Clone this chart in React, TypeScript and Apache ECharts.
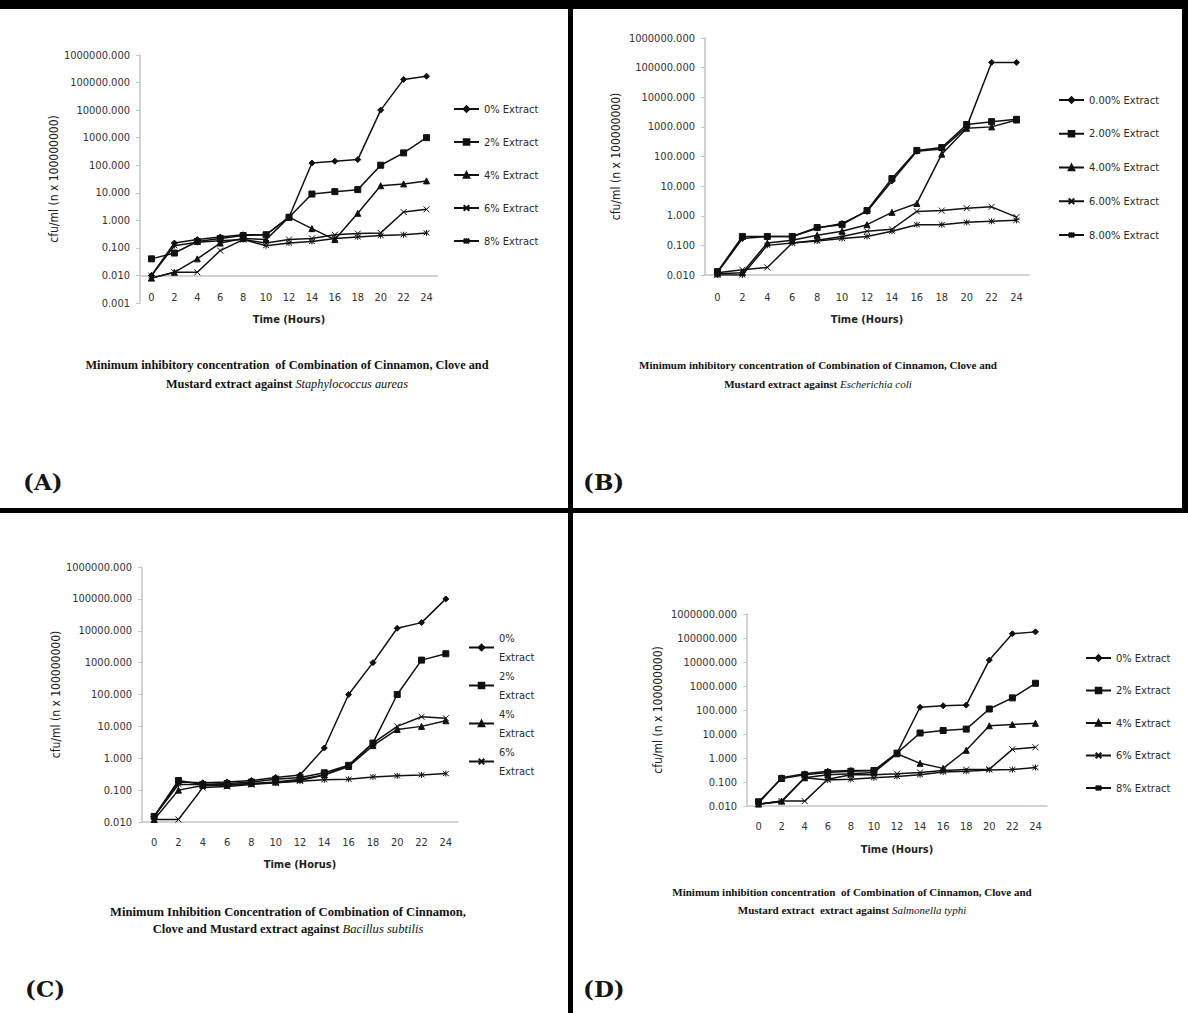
import React, { useEffect, useRef } from 'react';
import * as echarts from 'echarts';

const hours = ['0', '2', '4', '6', '8', '10', '12', '14', '16', '18', '20', '22', '24'];

const namesShort = ['0% Extract', '2% Extract', '4% Extract', '6% Extract', '8% Extract'];
const namesLong = ['0.00% Extract', '2.00% Extract', '4.00% Extract', '6.00% Extract', '8.00% Extract'];

// Panel A – Staphylococcus aureas
const a0 = [0.010, 0.15, 0.20, 0.25, 0.30, 0.30, 1.3, 120, 140, 160, 10000, 130000, 170000];
const a2 = [0.040, 0.065, 0.17, 0.22, 0.28, 0.30, 1.3, 9, 11, 13, 100, 280, 1000];
const a4 = [0.008, 0.013, 0.040, 0.15, 0.22, 0.20, 1.3, 0.5, 0.2, 1.8, 18, 21, 27];
const a6 = [0.008, 0.013, 0.013, 0.08, 0.20, 0.15, 0.20, 0.22, 0.30, 0.33, 0.35, 2.0, 2.5];
const a8 = [0.010, 0.12, 0.16, 0.18, 0.20, 0.12, 0.15, 0.17, 0.22, 0.25, 0.28, 0.30, 0.35];

// Panel B – Escherichia coli
const b0 = [0.012, 0.17, 0.20, 0.20, 0.38, 0.55, 1.4, 15, 150, 180, 1000, 150000, 150000];
const b2 = [0.013, 0.20, 0.20, 0.20, 0.40, 0.50, 1.5, 18, 160, 200, 1200, 1500, 1800];
const b4 = [0.011, 0.012, 0.12, 0.15, 0.22, 0.30, 0.5, 1.3, 2.6, 120, 900, 1000, 1700];
const b6 = [0.012, 0.015, 0.018, 0.12, 0.15, 0.20, 0.30, 0.35, 1.4, 1.5, 1.8, 2.0, 0.9];
const b8 = [0.010, 0.010, 0.10, 0.12, 0.14, 0.17, 0.20, 0.30, 0.5, 0.5, 0.6, 0.65, 0.7];

// Panel C – Bacillus subtilis
const c0 = [0.015, 0.18, 0.17, 0.18, 0.20, 0.25, 0.30, 2.1, 100, 1000, 12000, 18000, 100000];
const c2 = [0.015, 0.20, 0.15, 0.16, 0.18, 0.22, 0.25, 0.35, 0.6, 3, 100, 1200, 1900];
const c4 = [0.012, 0.10, 0.14, 0.14, 0.16, 0.18, 0.22, 0.30, 0.55, 2.5, 8, 10, 15];
const c6 = [0.012, 0.012, 0.12, 0.13, 0.15, 0.17, 0.20, 0.30, 0.6, 3, 10, 20, 18];
const c8 = [0.015, 0.15, 0.15, 0.15, 0.16, 0.17, 0.19, 0.21, 0.22, 0.26, 0.28, 0.30, 0.33];

// Panel D – Salmonella typhi
const d0 = [0.013, 0.15, 0.22, 0.28, 0.30, 0.30, 1.6, 130, 150, 160, 12000, 150000, 180000];
const d2 = [0.015, 0.14, 0.20, 0.25, 0.28, 0.30, 1.6, 11, 14, 16, 110, 320, 1300];
const d4 = [0.012, 0.016, 0.15, 0.20, 0.22, 0.25, 1.5, 0.6, 0.37, 2.1, 22, 25, 28];
const d6 = [0.012, 0.016, 0.016, 0.13, 0.20, 0.20, 0.22, 0.25, 0.30, 0.33, 0.34, 2.3, 2.8];
const d8 = [0.012, 0.015, 0.15, 0.12, 0.13, 0.15, 0.17, 0.20, 0.26, 0.28, 0.32, 0.33, 0.40];

const X_PATH = 'path://M0,0L10,10M10,0L0,10';
const STAR_PATH = 'path://M0,1L10,9M10,1L0,9M5,0L5,10';
const symbols = ['diamond', 'rect', 'triangle', X_PATH, STAR_PATH];
const symbolSizes = [6, 6, 6, 6, 6];

const NARROW = "'Liberation Sans Narrow', 'DejaVu Sans Condensed', 'Liberation Sans', sans-serif";
const SERIF = "'Liberation Serif', 'DejaVu Serif', serif";

const panels = [
  {
    names: namesShort, data: [a0, a2, a4, a6, a8],
    grid: { left: 140, top: 55, width: 298, height: 248 },
    yMin: 0.001, split: 9, labelMargin: -11, xNameGap: 11, yNameGap: 78, xName: 'Time (Hours)',
    axisLineX: false,
    legend: { left: 448, top: 98, itemGap: 21 },
  },
  {
    names: namesLong, data: [b0, b2, b4, b6, b8],
    grid: { left: 705, top: 38, width: 324, height: 237 },
    yMin: 0.01, split: 8, labelMargin: 17, xNameGap: 39, yNameGap: 83, xName: 'Time (Hours)',
    axisLineX: true,
    legend: { left: 1053, top: 89, itemGap: 21.75 },
  },
  {
    names: namesShort, data: [c0, c2, c4, c6, c8],
    grid: { left: 142, top: 567, width: 316, height: 255 },
    yMin: 0.01, split: 8, labelMargin: 15, xNameGap: 37, yNameGap: 73, xName: 'Time (Horus)',
    axisLineX: true,
    legend: { left: 463, top: 614, itemGap: -19 },
    wrapLegend: true,
  },
  {
    names: namesShort, data: [d0, d2, d4, d6, d8],
    grid: { left: 747, top: 614, width: 300, height: 192 },
    yMin: 0.01, split: 8, labelMargin: 15, xNameGap: 38, yNameGap: 83, xName: 'Time (Hours)',
    axisLineX: true,
    legend: { left: 1080, top: 647, itemGap: 20.5 },
  },
];

function buildOption() {
  const grids: any[] = [];
  const xAxes: any[] = [];
  const yAxes: any[] = [];
  const series: any[] = [];
  const legends: any[] = [];

  panels.forEach((p, i) => {
    grids.push({ ...p.grid, containLabel: false });
    xAxes.push({
      type: 'category', gridIndex: i, data: hours, boundaryGap: true,
      axisLine: { show: p.axisLineX, lineStyle: { color: '#c4c4c4', width: 1.5 } },
      axisTick: { show: false },
      axisLabel: { margin: p.labelMargin, color: '#333', fontFamily: NARROW, fontSize: 11, interval: 0 },
      name: p.xName, nameLocation: 'middle', nameGap: p.xNameGap,
      nameTextStyle: { color: '#222', fontFamily: NARROW, fontSize: 11, fontWeight: 'bold' },
      splitLine: { show: false },
    });
    yAxes.push({
      type: 'log', logBase: 10, gridIndex: i, min: p.yMin, max: 1000000, splitNumber: p.split,
      axisLine: { show: true, lineStyle: { color: '#c4c4c4', width: 1.5 } },
      axisTick: { show: true, length: 4, inside: false, lineStyle: { color: '#c4c4c4' } },
      axisLabel: {
        margin: 10, color: '#333', fontFamily: NARROW, fontSize: 11,
        formatter: (v: number) => Number(v).toFixed(3),
      },
      splitLine: { show: false },
      name: 'cfu/ml (n x 100000000)', nameLocation: 'middle', nameRotate: 90, nameGap: p.yNameGap,
      nameTextStyle: { color: '#222', fontFamily: NARROW, fontSize: 12 },
    });
    p.data.forEach((vals, k) => {
      const s: any = {
        type: 'line', name: p.names[k], xAxisIndex: i, yAxisIndex: i, data: vals,
        symbol: symbols[k], symbolSize: symbolSizes[k], symbolKeepAspect: true,
        lineStyle: { color: '#111', width: 1.5 },
        itemStyle: { color: '#111', borderColor: '#111', borderWidth: 1 },
        emphasis: { disabled: true }, silent: true, z: 3,
      };
      if (i === 0 && k === 0) {
        s.markLine = {
          silent: true, symbol: 'none', label: { show: false },
          lineStyle: { color: '#c4c4c4', width: 1.5, type: 'solid' },
          data: [{ yAxis: 0.01 }], z: 1,
        };
      }
      series.push(s);
    });
    const legendNames = p.wrapLegend ? p.names.slice(0, 4) : p.names;
    legends.push({
      orient: 'vertical', left: p.legend.left, top: p.legend.top, itemGap: p.legend.itemGap,
      itemWidth: 25, itemHeight: 7, data: legendNames, selectedMode: false,
      formatter: p.wrapLegend ? (n: string) => n.replace(' ', '\n') : undefined,
      textStyle: p.wrapLegend
        ? { color: '#2a2a2a', fontFamily: NARROW, fontSize: 11, lineHeight: 19, padding: [19, 0, 0, 0] }
        : { color: '#2a2a2a', fontFamily: NARROW, fontSize: 11, lineHeight: 12 },
    });
  });

  const caption = (x: number, y: number, l1: string, l2: string, it: string, size: number, lh: number) => ({
    type: 'text', x, y,
    style: {
      text: `{b|${l1}}\n{b|${l2}}{i|${it}}`,
      align: 'center', verticalAlign: 'top',
      rich: {
        b: { fontFamily: SERIF, fontWeight: 'bold', fontSize: size, lineHeight: lh, fill: '#111' },
        i: { fontFamily: SERIF, fontStyle: 'italic', fontSize: size, lineHeight: lh, fill: '#111' },
      },
    },
  });
  const tag = (x: number, y: number, t: string) => ({
    type: 'text', x, y,
    style: { text: t, fontFamily: "'DejaVu Serif', serif", fontWeight: 'bold', fontSize: 23, fill: '#151515', verticalAlign: 'middle' },
  });

  const graphic: any[] = [
    { type: 'rect', shape: { x: 0, y: 0, width: 1188, height: 9 }, style: { fill: '#000' } },
    { type: 'rect', shape: { x: 568, y: 0, width: 5, height: 1013 }, style: { fill: '#000' } },
    { type: 'rect', shape: { x: 0, y: 508, width: 1188, height: 5 }, style: { fill: '#000' } },
    { type: 'rect', shape: { x: 1182, y: 0, width: 6, height: 510 }, style: { fill: '#000' } },
    caption(287, 355.5, 'Minimum inhibitory concentration  of Combination of Cinnamon, Clove and', 'Mustard extract against ', 'Staphylococcus aureas', 12.3, 19),
    caption(818, 355.5, 'Minimum inhibitory concentration of Combination of Cinnamon, Clove and', 'Mustard extract against ', 'Escherichia coli', 11, 19),
    caption(288, 903.5, 'Minimum Inhibition Concentration of Combination of Cinnamon,', 'Clove and Mustard extract against ', 'Bacillus subtilis', 12.6, 17),
    caption(852, 883, 'Minimum inhibition concentration  of Combination of Cinnamon, Clove and', 'Mustard extract  extract against ', 'Salmonella typhi', 11, 18),
    tag(23, 481, '(A)'),
    tag(583, 481, '(B)'),
    tag(25, 988, '(C)'),
    tag(583, 988, '(D)'),
  ];

  return {
    animation: false,
    backgroundColor: '#fff',
    grid: grids, xAxis: xAxes, yAxis: yAxes, series, legend: legends, graphic,
  };
}

export default function App() {
  const ref = useRef<HTMLDivElement>(null);
  useEffect(() => {
    const chart = echarts.init(ref.current!, null, { renderer: 'svg' });
    chart.setOption(buildOption() as any);
    return () => chart.dispose();
  }, []);
  return (
    <div
      ref={ref}
      style={{ position: 'absolute', left: 0, top: 0, width: 1188, height: 1013, background: '#fff' }}
    />
  );
}
